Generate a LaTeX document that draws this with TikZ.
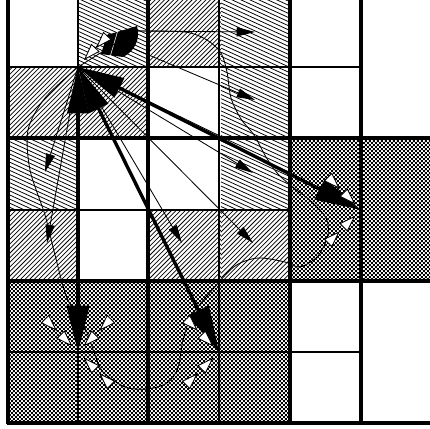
\documentclass[tikz,border=0pt]{standalone}
\usetikzlibrary{arrows.meta,patterns,patterns.meta}
\tikzdeclarepattern{
  name=finechecks,
  type=uncolored,
  tile size={(2.8pt,2.8pt)},
  bounding box={(0pt,0pt) and (2.8pt,2.8pt)},
  code={
    \pgfpathrectangle{\pgfpointorigin}{\pgfpoint{1.35pt}{1.35pt}}
    \pgfpathrectangle{\pgfpoint{1.4pt}{1.4pt}}{\pgfpoint{1.35pt}{1.35pt}}
    \pgfusepath{fill}
  }
}
\tikzset{
  gridbold/.style={line width=2.2pt},
  gridfine/.style={line width=1.4pt},
  hatchline/.style={line width=0.55pt},
  dotcell/.style={pattern=finechecks},
  bigflow/.style={line width=2.4pt,
    {Triangle[length=33pt,width=15pt]}-{Triangle[length=33pt,width=16pt]}},
  smallflow/.style={line width=0.6pt, -{Triangle[length=13pt,width=6.5pt]}},
  openhead/.style={line width=0.6pt, -{Triangle[open,length=12pt,width=8pt,fill=white]}},
  loopline/.style={line width=0.6pt}
}
% hatching of one cell, column #1, row #2
\newcommand\hatchfwd[2]{%
  \begin{scope}
    \clip ({8+71*#1},{-4+71*#2}) rectangle ++(71,71);
    \foreach \k in {0,4.6,...,146}
      \draw[hatchline] ({8+71*#1+\k},{-4+71*#2}) -- ++(-72,72);
  \end{scope}}
\newcommand\hatchback[2]{%
  \begin{scope}
    \clip ({8+71*#1},{-4+71*#2}) rectangle ++(71,71);
    \foreach \k in {0,4.1,...,110}
      \draw[hatchline] ({8+71*#1},{-38+71*#2+\k}) -- ++(72,33);
  \end{scope}}
\begin{document}
\begin{tikzpicture}[x=0.025cm,y=-0.025cm]
\useasboundingbox (0,0) rectangle (430,429);
\clip (0,0) rectangle (430,429);
% cells
\foreach \c/\r in {2/0,0/1,1/1,0/3,2/3,3/3}
  \hatchfwd{\c}{\r};
\foreach \c/\r in {1/0,3/0,3/1,0/2,3/2}
  \hatchback{\c}{\r};
\fill[dotcell] (290,138) rectangle (432,281);
\fill[dotcell] (8,281) rectangle (290,423);
% grid
\foreach \x in {78,219}
  \draw[gridfine] (\x,-4) -- (\x,423);
\foreach \x in {8,148,290,361}
  \draw[gridbold] (\x,-4) -- (\x,424);
\draw[gridfine] (8,67) -- (361,67);
\draw[gridfine] (8,210) -- (290,210);
\draw[gridfine] (8,352) -- (361,352);
\foreach \y in {138,281,423}
  \draw[gridbold] (7,\y) -- (432,\y);
% points
\coordinate (S) at (78,67);
\coordinate (T1) at (361,210);
\coordinate (T2) at (219,352);
\coordinate (T3) at (78,352);
\coordinate (F) at (137,31);
\coordinate (G) at (118,42);
\coordinate (a1) at (255,32);
\coordinate (a2) at (255,100);
\coordinate (a3) at (253,173);
\coordinate (a4) at (253,243);
\coordinate (a5) at (182,243);
\coordinate (a6) at (47,243);
\coordinate (a7) at (45,172);
% thin loop
\draw[loopline] plot[smooth] coordinates {(S) (45,98) (28,130) (30,170) (45,215) (55,255)
  (67,298) (85,328) (95,355) (103,372) (125,387) (147,389) (167,383) (178,368) (183,340)
  (192,315) (213,289) (235,266) (258,258) (285,262) (300,267) (318,256) (328,235)
  (326,218) (312,202) (294,188) (278,174) (266,157) (254,135) (241,119) (231,98)
  (227,72) (221,53) (207,40) (185,32) (F)};
% thin arrows
\foreach \t in {a3,a4,a5,a6,a7}
  \draw[smallflow] (S) -- (\t);
\draw[smallflow] (F) -- (a1);
\draw[smallflow] (G) -- (a2);
\draw[loopline] (S) -- (222,137);
% thick arrows
\draw[bigflow] (S) -- (T1);
\draw[bigflow] (S) -- (T2);
\draw[bigflow] (S) -- (T3);
% open heads
\foreach \p/\a in {T3/225,T3/315,T3/45,T2/225,T2/135,T1/225,T1/135}{
  \draw[openhead] ([shift={(\a:46)}]\p) -- ([shift={(\a:30)}]\p);
  \draw[openhead] ([shift={(\a:24)}]\p) -- ([shift={(\a:8)}]\p);
}
% top fan
\fill (101,54) -- (107,35) -- (137,26) to[bend left=40] (123,57) -- cycle;
\draw[white, line width=0.4pt] (110,57) -- (118,30);
\draw[openhead] (S) ++(32,-34) -- ++(-14,15);
\draw[openhead] (S) ++(20,-22) -- ++(-14,15);
\draw[loopline] (S) -- (G);
\end{tikzpicture}
\end{document}
